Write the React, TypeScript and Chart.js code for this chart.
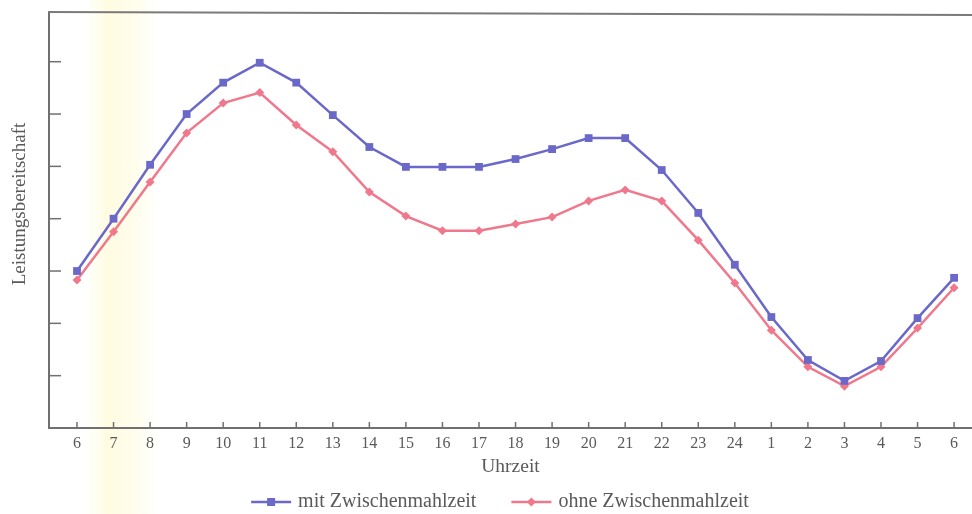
import React, { useEffect, useRef } from 'react';
import { Chart, registerables } from 'chart.js';

Chart.register(...registerables);

const HOURS = ['6', '7', '8', '9', '10', '11', '12', '13', '14', '15', '16', '17', '18', '19', '20', '21', '22', '23', '24', '1', '2', '3', '4', '5', '6'];
const MIT = [3.0, 4.0, 5.03, 6.0, 6.6, 6.98, 6.6, 5.98, 5.37, 4.99, 4.99, 4.99, 5.14, 5.33, 5.54, 5.54, 4.93, 4.11, 3.12, 2.12, 1.3, 0.9, 1.28, 2.1, 2.87];
const OHNE = [2.83, 3.75, 4.7, 5.64, 6.21, 6.41, 5.79, 5.28, 4.51, 4.05, 3.77, 3.77, 3.9, 4.03, 4.34, 4.55, 4.34, 3.59, 2.77, 1.87, 1.17, 0.8, 1.17, 1.91, 2.68];
const Y_TICKS = [1, 2, 3, 4, 5, 6, 7];
const SERIES_LABELS = ['mit Zwischenmahlzeit', 'ohne Zwischenmahlzeit'];
const X_TITLE = 'Uhrzeit';
const Y_TITLE = 'Leistungsbereitschaft';
const BAND = [0.2, 2.3];

const BLUE = '#6a68c8';
const PINK = '#f0788c';
const TEXT = '#5a5a5a';
const AXIS = '#707070';
const FONT = '"Liberation Serif", "DejaVu Serif", serif';

const decor = {
  id: 'decor',
  beforeDraw(chart: any) {
    const { ctx, scales } = chart;
    const x = scales.x;
    const x0 = x.getPixelForValue(BAND[0]);
    const x1 = x.getPixelForValue(BAND[1]);
    ctx.save();
    const g = ctx.createLinearGradient(x0, 0, x1, 0);
    g.addColorStop(0, 'rgba(255,253,225,0)');
    g.addColorStop(0.3, 'rgba(255,251,218,0.8)');
    g.addColorStop(0.65, 'rgba(255,252,228,0.75)');
    g.addColorStop(1, 'rgba(255,253,235,0)');
    ctx.fillStyle = g;
    ctx.fillRect(x0, 0, x1 - x0, chart.height);
    ctx.restore();
  },
  afterDraw(chart: any) {
    const { ctx, chartArea, scales } = chart;
    const { x, y } = scales;
    ctx.save();
    ctx.strokeStyle = AXIS;
    ctx.lineWidth = 1.5;
    Y_TICKS.forEach((v) => {
      const py = y.getPixelForValue(v);
      ctx.beginPath();
      ctx.moveTo(chartArea.left, py);
      ctx.lineTo(chartArea.left + 12, py);
      ctx.stroke();
    });
    HOURS.forEach((_, i) => {
      const px = x.getPixelForValue(i);
      ctx.beginPath();
      ctx.moveTo(px, chartArea.bottom);
      ctx.lineTo(px, chartArea.bottom - 6);
      ctx.stroke();
    });
    ctx.lineWidth = 2;
    ctx.strokeStyle = '#7a7a7a';
    ctx.beginPath();
    ctx.moveTo(chartArea.left - 1, chartArea.top);
    ctx.lineTo(chartArea.right, chartArea.top + 3);
    ctx.stroke();

    ctx.fillStyle = TEXT;
    ctx.font = `19px ${FONT}`;
    ctx.textAlign = 'center';
    ctx.textBaseline = 'middle';
    ctx.save();
    ctx.translate(20, 204);
    ctx.rotate(-Math.PI / 2);
    ctx.fillText(Y_TITLE, 0, 0);
    ctx.restore();

    ctx.font = `20px ${FONT}`;
    ctx.textBaseline = 'middle';
    ctx.textAlign = 'left';
    const lineW = 40;
    const gapText = 7;
    const gapItems = 35;
    const colors = [BLUE, PINK];
    const widths = SERIES_LABELS.map((t) => lineW + gapText + ctx.measureText(t).width);
    const total = widths[0] + widths[1] + gapItems;
    let lx = 500 - total / 2;
    const ly = 502;
    SERIES_LABELS.forEach((t, i) => {
      ctx.strokeStyle = colors[i];
      ctx.lineWidth = 2.5;
      ctx.beginPath();
      ctx.moveTo(lx, ly);
      ctx.lineTo(lx + lineW, ly);
      ctx.stroke();
      ctx.fillStyle = colors[i];
      const cx = lx + lineW / 2;
      if (i === 0) {
        ctx.fillRect(cx - 4, ly - 4, 8, 8);
      } else {
        ctx.beginPath();
        ctx.moveTo(cx, ly - 4.5);
        ctx.lineTo(cx + 4.5, ly);
        ctx.lineTo(cx, ly + 4.5);
        ctx.lineTo(cx - 4.5, ly);
        ctx.closePath();
        ctx.fill();
      }
      ctx.fillStyle = TEXT;
      ctx.fillText(t, lx + lineW + gapText, ly);
      lx += widths[i] + gapItems;
    });
    ctx.restore();
  },
};

export default function App() {
  const ref = useRef<HTMLCanvasElement | null>(null);
  useEffect(() => {
    document.body.style.margin = '0';
    document.body.style.overflow = 'hidden';
    if (!ref.current) return;
    const chart = new Chart(ref.current, {
      type: 'line',
      data: {
        datasets: [
          {
            label: SERIES_LABELS[0],
            data: MIT.map((v, i) => ({ x: i, y: v })),
            borderColor: BLUE,
            backgroundColor: BLUE,
            borderWidth: 2.5,
            pointStyle: 'rect',
            pointRadius: 5.5,
            pointBorderWidth: 0,
            tension: 0,
          },
          {
            label: SERIES_LABELS[1],
            data: OHNE.map((v, i) => ({ x: i, y: v })),
            borderColor: PINK,
            backgroundColor: PINK,
            borderWidth: 2.5,
            pointStyle: 'rectRot',
            pointRadius: 4.5,
            pointBorderWidth: 0,
            tension: 0,
          },
        ],
      },
      options: {
        animation: false,
        responsive: false,
        layout: { autoPadding: false, padding: { top: 12, left: 0, right: 0, bottom: 0 } },
        plugins: { legend: { display: false }, tooltip: { enabled: false } },
        scales: {
          x: {
            type: 'linear',
            min: -0.766,
            max: 24.49,
            afterBuildTicks: (s: any) => {
              s.ticks = HOURS.map((_, i) => ({ value: i }));
            },
            afterFit: (s: any) => {
              s.height = 86;
              s.paddingLeft = 0;
              s.paddingRight = 0;
            },
            ticks: {
              callback: (v: any) => HOURS[v as number],
              autoSkip: false,
              maxRotation: 0,
              padding: 6,
              color: TEXT,
              font: { family: FONT, size: 16 },
            },
            grid: { display: false, drawTicks: false },
            border: { display: true, color: AXIS, width: 2 },
            title: {
              display: true,
              text: X_TITLE,
              color: TEXT,
              font: { family: FONT, size: 19.5 },
              padding: { top: 0, bottom: 35 },
            },
          },
          y: {
            min: 0,
            max: 7.95,
            afterBuildTicks: (s: any) => {
              s.ticks = Y_TICKS.map((v) => ({ value: v }));
            },
            afterFit: (s: any) => {
              s.width = 49;
              s.paddingTop = 0;
              s.paddingBottom = 0;
            },
            ticks: { display: false },
            grid: { display: false, drawTicks: false },
            border: { display: true, color: AXIS, width: 2 },
          },
        },
      },
      plugins: [decor],
    });
    return () => chart.destroy();
  }, []);
  return (
    <div style={{ width: 972, height: 514, position: 'relative', background: '#fff', overflow: 'hidden' }}>
      <canvas ref={ref} width={972} height={514} style={{ display: 'block', width: 972, height: 514 }} />
    </div>
  );
}
